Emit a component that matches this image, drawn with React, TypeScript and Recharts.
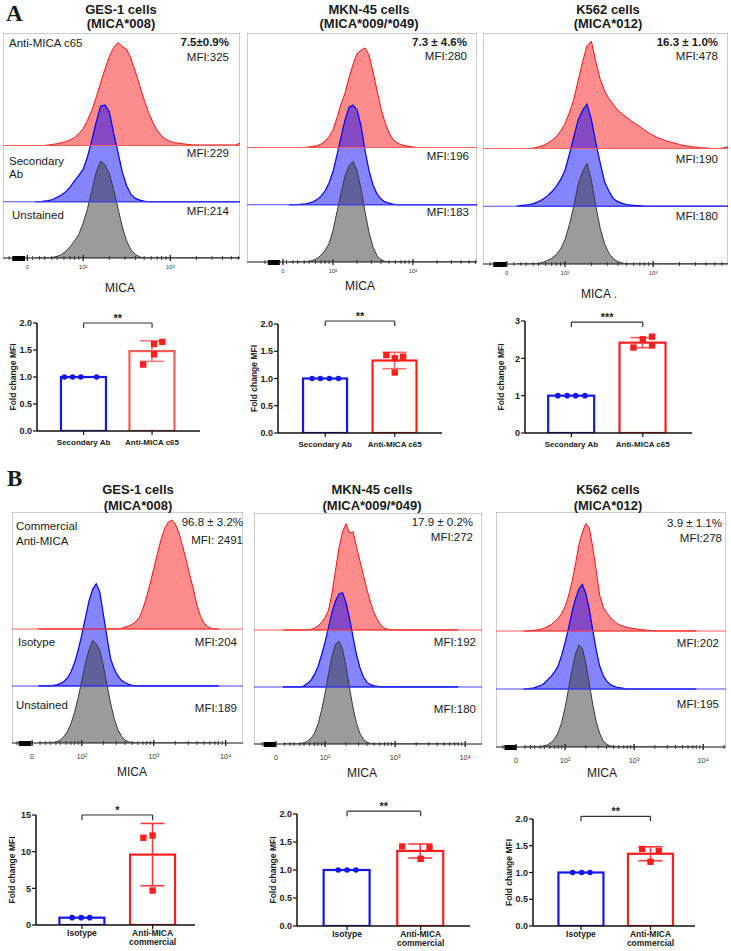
import {
  ComposedChart,
  Area,
  Bar,
  ErrorBar,
  Scatter,
  XAxis,
  YAxis,
  ReferenceArea,
  ReferenceLine,
} from "recharts";

const SANS = "'Liberation Sans', Arial, Helvetica, sans-serif";
const SERIF = "'Liberation Serif', 'Times New Roman', serif";
const BLUE = "#1616f0";
const RED = "#ff1e1e";

// log10(MICA) bin centres for the histograms
const micaLogA = [
  1.45, 1.5, 1.55, 1.6, 1.65, 1.7, 1.75, 1.8, 1.85, 1.9,
  1.95, 2.0, 2.05, 2.1, 2.15, 2.2, 2.25, 2.3, 2.35, 2.4,
  2.45, 2.5, 2.55, 2.6, 2.65, 2.7, 2.75, 2.8, 2.85, 2.9,
  2.95, 3.0, 3.05, 3.1, 3.15, 3.2, 3.25, 3.3, 3.35, 3.4,
  3.45, 3.5, 3.55, 3.6, 3.65, 3.7, 3.75, 3.8, 3.85,
];
const micaLogB = [
  1.4, 1.45, 1.5, 1.55, 1.6, 1.65, 1.7, 1.75, 1.8, 1.85,
  1.9, 1.95, 2.0, 2.05, 2.1, 2.15, 2.2, 2.25, 2.3, 2.35,
  2.4, 2.45, 2.5, 2.55, 2.6, 2.65, 2.7, 2.75, 2.8, 2.85,
  2.9, 2.95, 3.0, 3.05, 3.1, 3.15, 3.2, 3.25, 3.3, 3.35,
  3.4, 3.45, 3.5, 3.55, 3.6, 3.65, 3.7, 3.75, 3.8, 3.85,
  3.9,
];

// cell counts, normalised so one lane = 1 (row A: c65 staining)
const gesC65Red = [
  0, 0, 0, 0.01, 0.02, 0.03, 0.05, 0.07, 0.1, 0.14,
  0.21, 0.3, 0.45, 0.63, 0.86, 1.11, 1.36, 1.58, 1.74, 1.83,
  1.76, 1.71, 1.54, 1.31, 1.06, 0.81, 0.59, 0.41, 0.27, 0.17,
  0.11, 0.07, 0.05, 0.04, 0.03, 0.02, 0.01, 0.01, 0.01, 0.01,
  0.01, 0.01, 0.01, 0.01, 0.01, 0.01, 0.01, 0.04, 0,
];
const gesC65Blue = [
  0, 0, 0.01, 0.02, 0.04, 0.08, 0.12, 0.18, 0.26, 0.37,
  0.47, 0.58, 0.8, 1.1, 1.42, 1.7, 1.72, 1.6, 1.22, 0.88,
  0.52, 0.28, 0.13, 0.06, 0.03, 0.01, 0, 0, 0, 0,
  0, 0, 0, 0, 0, 0, 0, 0, 0, 0,
  0, 0, 0, 0, 0, 0, 0, 0, 0,
];
const gesC65Gray = [
  0, 0, 0, 0, 0.01, 0.03, 0.06, 0.12, 0.2, 0.3,
  0.42, 0.62, 0.88, 1.2, 1.52, 1.72, 1.66, 1.5, 1.22, 0.88,
  0.55, 0.3, 0.14, 0.06, 0.02, 0, 0, 0, 0, 0,
  0, 0, 0, 0, 0, 0, 0, 0, 0, 0,
  0, 0, 0, 0, 0, 0, 0, 0, 0,
];
const mknC65Red = [
  0, 0, 0, 0, 0, 0.01, 0.02, 0.03, 0.06, 0.11,
  0.19, 0.31, 0.52, 0.76, 0.95, 1.22, 1.45, 1.64, 1.7, 1.74,
  1.62, 1.32, 1.0, 0.68, 0.44, 0.26, 0.14, 0.08, 0.05, 0.03,
  0.02, 0.01, 0, 0, 0, 0, 0, 0, 0, 0,
  0, 0, 0, 0, 0, 0, 0, 0, 0,
];
const mknC65Blue = [
  0, 0, 0, 0.01, 0.01, 0.03, 0.05, 0.09, 0.15, 0.24,
  0.38, 0.58, 0.87, 1.18, 1.48, 1.7, 1.74, 1.66, 1.38, 0.95,
  0.6, 0.35, 0.19, 0.1, 0.05, 0.03, 0.01, 0, 0, 0,
  0, 0, 0, 0, 0, 0, 0, 0, 0, 0,
  0, 0, 0, 0, 0, 0, 0, 0, 0,
];
const mknC65Gray = [
  0, 0, 0, 0, 0, 0.01, 0.03, 0.06, 0.12, 0.2,
  0.32, 0.55, 0.88, 1.2, 1.5, 1.68, 1.76, 1.6, 1.28, 0.88,
  0.52, 0.26, 0.11, 0.04, 0.01, 0, 0, 0, 0, 0,
  0, 0, 0, 0, 0, 0, 0, 0, 0, 0,
  0, 0, 0, 0, 0, 0, 0, 0, 0,
];
const k562C65Red = [
  0, 0, 0, 0, 0.01, 0.03, 0.05, 0.09, 0.14, 0.2,
  0.3, 0.43, 0.62, 0.85, 1.18, 1.5, 1.78, 1.86, 1.5, 1.2,
  1.0, 0.86, 0.76, 0.66, 0.6, 0.54, 0.48, 0.43, 0.38, 0.32,
  0.27, 0.23, 0.19, 0.16, 0.13, 0.11, 0.09, 0.07, 0.05, 0.04,
  0.03, 0.02, 0.01, 0.01, 0, 0, 0, 0.01, 0.03,
];
const k562C65Blue = [
  0, 0.01, 0.02, 0.03, 0.05, 0.08, 0.12, 0.18, 0.25, 0.34,
  0.46, 0.62, 0.9, 1.2, 1.5, 1.66, 1.77, 1.5, 1.1, 0.75,
  0.42, 0.26, 0.13, 0.08, 0.05, 0.03, 0.02, 0.01, 0.01, 0,
  0, 0, 0, 0, 0, 0, 0, 0, 0, 0,
  0, 0, 0, 0, 0, 0, 0, 0, 0,
];
const k562C65Gray = [
  0, 0, 0, 0, 0, 0.01, 0.03, 0.06, 0.1, 0.16,
  0.26, 0.42, 0.68, 1.0, 1.38, 1.6, 1.74, 1.45, 1.0, 0.62,
  0.35, 0.18, 0.09, 0.04, 0.02, 0, 0, 0, 0, 0,
  0, 0, 0, 0, 0, 0, 0, 0, 0, 0,
  0, 0, 0, 0, 0, 0, 0, 0, 0,
];

// row B: commercial antibody
const gesComRed = [
  0, 0, 0, 0, 0, 0, 0, 0, 0, 0,
  0, 0, 0, 0, 0, 0, 0, 0, 0, 0,
  0, 0, 0, 0.01, 0.03, 0.05, 0.08, 0.13, 0.2, 0.36,
  0.56, 0.8, 1.06, 1.32, 1.56, 1.76, 1.87, 1.91, 1.84, 1.68,
  1.46, 1.21, 0.95, 0.7, 0.42, 0.22, 0.1, 0.04, 0.01, 0,
  0,
];
const gesComBlue = [
  0, 0, 0, 0, 0.01, 0.02, 0.04, 0.08, 0.14, 0.25,
  0.41, 0.63, 0.9, 1.2, 1.49, 1.69, 1.79, 1.65, 1.25, 0.86,
  0.48, 0.3, 0.18, 0.1, 0.06, 0.03, 0.01, 0, 0, 0,
  0, 0, 0, 0, 0, 0, 0, 0, 0, 0,
  0, 0, 0, 0, 0, 0, 0, 0, 0, 0,
  0,
];
const gesComGray = [
  0, 0, 0, 0, 0.01, 0.02, 0.05, 0.11, 0.2, 0.34,
  0.54, 0.8, 1.09, 1.39, 1.63, 1.8, 1.74, 1.63, 1.35, 1.02,
  0.7, 0.43, 0.24, 0.12, 0.05, 0.02, 0.01, 0, 0, 0,
  0, 0, 0, 0, 0, 0, 0, 0, 0, 0,
  0, 0, 0, 0, 0, 0, 0, 0, 0, 0,
  0,
];
const mknComRed = [
  0, 0, 0, 0, 0, 0, 0, 0, 0.01, 0.03,
  0.07, 0.13, 0.22, 0.35, 0.65, 1.05, 1.45, 1.72, 1.86, 1.7,
  1.72, 1.45, 1.2, 0.95, 0.7, 0.48, 0.3, 0.17, 0.08, 0.03,
  0.01, 0, 0, 0, 0, 0, 0, 0, 0, 0,
  0, 0, 0, 0, 0, 0, 0, 0, 0, 0,
  0,
];
const mknComBlue = [
  0, 0, 0, 0, 0, 0, 0.02, 0.06, 0.12, 0.22,
  0.36, 0.56, 0.79, 1.05, 1.31, 1.51, 1.63, 1.65, 1.48, 1.2,
  0.87, 0.56, 0.33, 0.17, 0.08, 0.04, 0.02, 0.01, 0, 0,
  0, 0, 0, 0, 0, 0, 0, 0, 0, 0,
  0, 0, 0, 0, 0, 0, 0, 0, 0, 0,
  0,
];
const mknComGray = [
  0, 0, 0, 0, 0, 0.01, 0.02, 0.05, 0.1, 0.19,
  0.35, 0.59, 0.89, 1.23, 1.54, 1.75, 1.8, 1.66, 1.35, 0.98,
  0.63, 0.36, 0.18, 0.08, 0.03, 0.01, 0, 0, 0, 0,
  0, 0, 0, 0, 0, 0, 0, 0, 0, 0,
  0, 0, 0, 0, 0, 0, 0, 0, 0, 0,
  0,
];
const k562ComRed = [
  0, 0, 0.01, 0.01, 0.02, 0.03, 0.05, 0.08, 0.11, 0.16,
  0.22, 0.3, 0.42, 0.6, 0.85, 1.15, 1.48, 1.7, 1.85, 1.78,
  1.45, 1.05, 0.62, 0.42, 0.32, 0.24, 0.18, 0.13, 0.1, 0.08,
  0.06, 0.05, 0.04, 0.03, 0.02, 0.02, 0.01, 0.01, 0, 0,
  0, 0, 0, 0, 0, 0, 0, 0, 0, 0,
  0,
];
const k562ComBlue = [
  0, 0, 0.01, 0.02, 0.04, 0.06, 0.1, 0.16, 0.22, 0.3,
  0.4, 0.58, 0.8, 1.05, 1.32, 1.55, 1.72, 1.8, 1.65, 1.38,
  1.02, 0.68, 0.4, 0.24, 0.14, 0.08, 0.05, 0.03, 0.02, 0.01,
  0, 0, 0, 0, 0, 0, 0, 0, 0, 0,
  0, 0, 0, 0, 0, 0, 0, 0, 0, 0,
  0,
];
const k562ComGray = [
  0, 0, 0, 0, 0, 0.01, 0.02, 0.04, 0.08, 0.14,
  0.25, 0.42, 0.68, 1.0, 1.32, 1.6, 1.76, 1.7, 1.45, 1.1,
  0.74, 0.44, 0.24, 0.11, 0.05, 0.02, 0.01, 0, 0, 0,
  0, 0, 0, 0, 0, 0, 0, 0, 0, 0,
  0, 0, 0, 0, 0, 0, 0, 0, 0, 0,
  0,
];

// biexponential axis ticks (display units = log10 above the linear region)
const minorTicksA = [1.15, 1.42, 1.5, 1.56, 1.64, 1.7, 1.78, 1.85, 1.9, 1.95, 2.3, 2.48, 2.6, 2.7, 2.78, 2.85, 2.9, 2.95, 3.3, 3.48, 3.6, 3.7, 3.78];
const minorTicksB = [1.1, 1.42, 1.5, 1.56, 1.64, 1.7, 1.78, 1.85, 1.9, 1.95, 2.3, 2.48, 2.6, 2.7, 2.78, 2.85, 2.9, 2.95, 3.3, 3.48, 3.6, 3.7, 3.78, 3.85, 3.9, 3.95, 4.3];
const clusterTicksA = [1.2, 1.22, 1.24, 1.26, 1.28, 1.3, 1.32];
const clusterTicksB = [1.14, 1.16, 1.18, 1.2, 1.22, 1.24, 1.26, 1.28];

// fold change MFI
const catsC65 = [["Secondary Ab"], ["Anti-MICA c65"]];
const catsCom = [["Isotype"], ["Anti-MICA", "commercial"]];

const gesC65Mean = [1.0, 1.48];
const gesC65Sd = [0, 0.19];
const gesC65Ctrl = [1, 1, 1, 1];
const gesC65Anti = [1.23, 1.42, 1.61, 1.65];
const mknC65Mean = [1.0, 1.33];
const mknC65Sd = [0, 0.15];
const mknC65Ctrl = [1, 1, 1, 1];
const mknC65Anti = [1.43, 1.37, 1.4, 1.11];
const k562C65Mean = [1.0, 2.42];
const k562C65Sd = [0, 0.135];
const k562C65Ctrl = [1, 1, 1, 1];
const k562C65Anti = [2.29, 2.51, 2.35, 2.58];

const gesComMean = [1.0, 9.6];
const gesComSd = [0, 4.25];
const gesComCtrl = [1, 1, 1];
const gesComAnti = [11.9, 12.2, 4.7];
const mknComMean = [1.0, 1.34];
const mknComSd = [0, 0.125];
const mknComCtrl = [1, 1, 1];
const mknComAnti = [1.42, 1.2, 1.4];
const k562ComMean = [1.0, 1.35];
const k562ComSd = [0, 0.13];
const k562ComCtrl = [1, 1, 1];
const k562ComAnti = [1.44, 1.4, 1.2];

// horizontal spread of the replicate points around each bar
const gesC65CtrlJit = [-0.28, -0.16, -0.04, 0.19];
const gesC65AntiJit = [-0.13, 0.03, 0.03, 0.15];
const mknC65CtrlJit = [-0.19, -0.07, 0.06, 0.19];
const mknC65AntiJit = [-0.12, 0, 0.12, 0];
const k562C65CtrlJit = [-0.19, -0.06, 0.06, 0.19];
const k562C65AntiJit = [-0.13, 0, 0.13, 0.13];
const gesComCtrlJit = [-0.14, -0.01, 0.11];
const gesComAntiJit = [-0.13, 0, 0];
const mknComCtrlJit = [-0.12, 0, 0.12];
const mknComAntiJit = [-0.25, 0, 0.12];
const k562ComCtrlJit = [-0.12, 0.01, 0.13];
const k562ComAntiJit = [-0.12, 0.12, 0];

type TxtProps = {
  x: number;
  y: number;
  children: React.ReactNode;
  align?: "left" | "right" | "center";
  bold?: boolean;
  size?: number;
  serif?: boolean;
};

const Txt = ({ x, y, children, align = "left", bold = false, size = 11.5, serif = false }: TxtProps) => {
  const tx = align === "right" ? "-100%" : align === "center" ? "-50%" : "0";
  return (
    <div
      style={{
        position: "absolute",
        left: x,
        top: y,
        transform: `translate(${tx}, -50%)`,
        fontSize: size,
        fontWeight: bold ? 700 : 400,
        lineHeight: 1,
        whiteSpace: "nowrap",
        color: "#1a1a1a",
        fontFamily: serif ? SERIF : SANS,
      }}
    >
      {children}
    </div>
  );
};

type HistProps = {
  left: number;
  top: number;
  width: number;
  height: number;
  yMax: number;
  domain: [number, number];
  xs: number[];
  red: number[];
  blue: number[];
  gray: number[];
  majors: [number, string][];
  minors: number[];
  cluster: number[];
  labelSize: number;
  labelDy: number;
};

const Histogram = (p: HistProps) => {
  const rows = p.xs.map((x, i) => ({
    x,
    red: [2, 2 + p.red[i]],
    blue: [1, 1 + p.blue[i]],
    gray: [0, p.gray[i]],
  }));
  const inside = (t: number) => t >= p.domain[0] && t <= p.domain[1];
  const ticks = [...p.cluster, ...p.minors, ...p.majors.map((m) => m[0])].filter(inside).sort((a, b) => a - b);
  const labelOf = new Map(p.majors);

  const renderTick = (props: any) => {
    const { x, y, payload } = props;
    const v = payload.value as number;
    const label = labelOf.get(v);
    if (label !== undefined) {
      return (
        <g>
          <line x1={x} x2={x} y1={y - 3} y2={y + 3} stroke="#222" strokeWidth={1.3} />
          <text x={x} y={y + p.labelDy} textAnchor="middle" fontSize={p.labelSize} fill="#3a3a3a">
            {label}
          </text>
        </g>
      );
    }
    if (p.cluster.includes(v)) {
      return <line x1={x} x2={x} y1={y - 2} y2={y + 3} stroke="#000" strokeWidth={2.4} />;
    }
    return <line x1={x} x2={x} y1={y - 2} y2={y + 2} stroke="#333" strokeWidth={0.9} />;
  };

  return (
    <div style={{ position: "absolute", left: p.left, top: p.top }}>
      <ComposedChart width={p.width} height={p.height + 22} data={rows} margin={{ top: 0, right: 0, bottom: 0, left: 0 }}>
        <XAxis
          type="number"
          dataKey="x"
          domain={p.domain}
          allowDataOverflow
          ticks={ticks}
          interval={0}
          tick={renderTick}
          tickLine={false}
          tickSize={0}
          tickMargin={0}
          axisLine={{ stroke: "#444", strokeWidth: 1 }}
          height={22}
        />
        <YAxis hide type="number" domain={[0, p.yMax]} allowDataOverflow />
        <ReferenceArea x1={p.domain[0]} x2={p.domain[1]} y1={0} y2={p.yMax} fill="none" stroke="#9c9c9c" strokeWidth={1} />
        <ReferenceLine y={2} stroke="#ff5a5a" strokeWidth={1.1} />
        <ReferenceLine y={1} stroke="#4a4aff" strokeWidth={1.1} />
        <Area type="linear" dataKey="red" fill="#ff0000" fillOpacity={0.45} stroke="#ff1010" strokeWidth={1} isAnimationActive={false} />
        <Area type="linear" dataKey="blue" fill="#0000ff" fillOpacity={0.48} stroke="#0000ff" strokeWidth={1.2} isAnimationActive={false} />
        <Area type="linear" dataKey="gray" fill="#404040" fillOpacity={0.52} stroke="#3a3a3a" strokeWidth={1} isAnimationActive={false} />
      </ComposedChart>
    </div>
  );
};

type FoldProps = {
  axisX: number;
  topY: number;
  plotW: number;
  plotH: number;
  xDomain: [number, number];
  yMax: number;
  yTicks: number[];
  decimals: number;
  means: number[];
  sds: number[];
  control: number[];
  controlJitter: number[];
  treated: number[];
  treatedJitter: number[];
  cats: string[][];
  catSize: number;
  catMargin: number;
  catFirst: string;
  stars: string;
  bracketY: number;
  bracketDrop: number;
  barSize: number;
  redStroke: string;
  errStroke: string;
};

const FoldChart = (p: FoldProps) => {
  const bars = p.means.map((mean, i) => ({ x: i + 1, mean, sd: p.sds[i] }));
  const ctrl = p.control.map((y, i) => ({ x: 1 + p.controlJitter[i], y }));
  const trt = p.treated.map((y, i) => ({ x: 2 + p.treatedJitter[i], y }));

  const catTick = (props: any) => {
    const { x, y, payload } = props;
    const lines = p.cats[Math.round(payload.value) - 1] || [];
    return (
      <text x={x} y={y} textAnchor="middle" fontSize={p.catSize} fontWeight={700} fill="#222">
        {lines.map((l, i) => (
          <tspan key={i} x={x} dy={i === 0 ? p.catFirst : "1.12em"}>
            {l}
          </tspan>
        ))}
      </text>
    );
  };

  // open bar: keep the band centre, use the fixed bar width
  const openBar = (s: any) => {
    const cx = s.x + s.width / 2;
    const color = s.payload && s.payload.x === 1 ? BLUE : p.redStroke;
    return (
      <rect
        x={cx - p.barSize / 2}
        y={s.y}
        width={p.barSize}
        height={Math.max(0, s.height)}
        fill="none"
        stroke={color}
        strokeWidth={2.2}
      />
    );
  };

  const bracket = { stroke: "#333", strokeWidth: 1.2, ifOverflow: "visible" as const };

  return (
    <div style={{ position: "absolute", left: p.axisX - 45, top: p.topY - 22 }}>
      <ComposedChart
        width={45 + p.plotW + 6}
        height={22 + p.plotH + 34}
        data={bars}
        margin={{ top: 22, right: 6, bottom: 0, left: 0 }}
      >
        <XAxis
          type="number"
          dataKey="x"
          domain={p.xDomain}
          allowDataOverflow
          ticks={[1, 2]}
          interval={0}
          tick={catTick}
          tickSize={4}
          tickMargin={p.catMargin}
          axisLine={{ stroke: "#111", strokeWidth: 1.5 }}
          tickLine={{ stroke: "#111", strokeWidth: 1.2 }}
          height={34}
        />
        <YAxis
          type="number"
          domain={[0, p.yMax]}
          allowDataOverflow
          ticks={p.yTicks}
          interval={0}
          width={45}
          tickFormatter={(v: number) => v.toFixed(p.decimals)}
          tick={{ fontSize: 9, fontWeight: 700, fill: "#222" }}
          tickSize={4}
          tickMargin={1}
          axisLine={{ stroke: "#111", strokeWidth: 1.5 }}
          tickLine={{ stroke: "#111", strokeWidth: 1.2 }}
          label={{
            value: "Fold change MFI",
            angle: -90,
            position: "insideLeft",
            offset: 21,
            style: { textAnchor: "middle", fontSize: 8.5, fontWeight: 700, fill: "#222" },
          }}
        />
        <Bar dataKey="mean" barSize={p.barSize} shape={openBar} isAnimationActive={false}>
          <ErrorBar dataKey="sd" direction="y" width={12} stroke={p.errStroke} strokeWidth={1.6} />
        </Bar>
        <Scatter
          data={ctrl}
          dataKey="y"
          isAnimationActive={false}
          shape={(s: any) => <circle cx={s.cx} cy={s.cy} r={2.8} fill={BLUE} />}
        />
        <Scatter
          data={trt}
          dataKey="y"
          isAnimationActive={false}
          shape={(s: any) => <rect x={s.cx - 3.2} y={s.cy - 3.2} width={6.4} height={6.4} fill={RED} />}
        />
        <ReferenceLine
          {...bracket}
          segment={[
            { x: 1, y: p.bracketY },
            { x: 2, y: p.bracketY },
          ]}
          label={{ value: p.stars, position: "top", offset: 1, fontSize: 11, fontWeight: 700, fill: "#222" }}
        />
        <ReferenceLine
          {...bracket}
          segment={[
            { x: 1, y: p.bracketY },
            { x: 1, y: p.bracketY - p.bracketDrop },
          ]}
        />
        <ReferenceLine
          {...bracket}
          segment={[
            { x: 2, y: p.bracketY },
            { x: 2, y: p.bracketY - p.bracketDrop },
          ]}
        />
      </ComposedChart>
    </div>
  );
};

const majorsA = (zero: number): [number, string][] => [
  [zero, "0"],
  [2, "10²"],
  [3, "10³"],
];
const majorsB = (zero: number): [number, string][] => [
  [zero, "0"],
  [2, "10²"],
  [3, "10³"],
  [4, "10⁴"],
];

const rowA = { yMax: 4, minors: minorTicksA, cluster: clusterTicksA, labelSize: 6, labelDy: 11, xs: micaLogA };
const rowB = { yMax: 4.05, minors: minorTicksB, cluster: clusterTicksB, labelSize: 7.5, labelDy: 16, xs: micaLogB };
const barsA = { cats: catsC65, catSize: 8, catMargin: 2, catFirst: "0.95em" };
const barsB = { cats: catsCom, catSize: 8.5, catMargin: 0, catFirst: "0.8em" };

export default function App() {
  return (
    <div
      style={{
        position: "absolute",
        left: 0,
        top: 0,
        width: 731,
        height: 951,
        background: "#fff",
        overflow: "hidden",
        fontFamily: SANS,
      }}
    >
      {/* ---- A: c65 ---- */}
      <Histogram {...rowA} left={3} top={33} width={237} height={225} domain={[1.08, 3.8]} majors={majorsA(1.36)}
        red={gesC65Red} blue={gesC65Blue} gray={gesC65Gray} />
      <Histogram {...rowA} left={247} top={33} width={230} height={229} domain={[0.925, 3.8]} majors={majorsA(1.375)}
        red={mknC65Red} blue={mknC65Blue} gray={mknC65Gray} />
      <Histogram {...rowA} left={483} top={33} width={245} height={231} domain={[1.07, 3.85]} majors={majorsA(1.34)}
        red={k562C65Red} blue={k562C65Blue} gray={k562C65Gray} />

      <FoldChart {...barsA} axisX={37} topY={323} plotW={163} plotH={108} xDomain={[0.32, 2.7]} yMax={2} yTicks={[0, 0.5, 1, 1.5, 2]}
        decimals={1} means={gesC65Mean} sds={gesC65Sd} control={gesC65Ctrl} controlJitter={gesC65CtrlJit}
        treated={gesC65Anti} treatedJitter={gesC65AntiJit} stars="**" bracketY={2}
        bracketDrop={0.09} barSize={45} redStroke="#f45a5a" errStroke="#f57a7a" />
      <FoldChart {...barsA} axisX={278} topY={324} plotW={164} plotH={109} xDomain={[0.32, 2.68]} yMax={2} yTicks={[0, 0.5, 1, 1.5, 2]}
        decimals={1} means={mknC65Mean} sds={mknC65Sd} control={mknC65Ctrl} controlJitter={mknC65CtrlJit}
        treated={mknC65Anti} treatedJitter={mknC65AntiJit} stars="**" bracketY={2.055}
        bracketDrop={0.09} barSize={44} redStroke={RED} errStroke="#ff6a6a" />
      <FoldChart {...barsA} axisX={525} topY={321} plotW={167} plotH={112} xDomain={[0.35, 2.69]} yMax={3} yTicks={[0, 1, 2, 3]}
        decimals={0} means={k562C65Mean} sds={k562C65Sd} control={k562C65Ctrl} controlJitter={k562C65CtrlJit}
        treated={k562C65Anti} treatedJitter={k562C65AntiJit} stars="***" bracketY={2.97}
        bracketDrop={0.13} barSize={46} redStroke={RED} errStroke="#ff5050" />

      {/* ---- B: commercial ---- */}
      <Histogram {...rowB} left={12} top={512} width={231} height={231} domain={[1.03, 4.24]} majors={majorsB(1.31)}
        red={gesComRed} blue={gesComBlue} gray={gesComGray} />
      <Histogram {...rowB} left={254} top={513} width={228} height={231} domain={[0.986, 4.24]} majors={majorsB(1.3)}
        red={mknComRed} blue={mknComBlue} gray={mknComGray} />
      <Histogram {...rowB} left={496} top={512} width={230} height={235} domain={[1.0, 4.33]} majors={majorsB(1.29)}
        red={k562ComRed} blue={k562ComBlue} gray={k562ComGray} />

      <FoldChart {...barsB} axisX={36} topY={815} plotW={159} plotH={110} xDomain={[0.35, 2.6]} yMax={15} yTicks={[0, 5, 10, 15]}
        decimals={0} means={gesComMean} sds={gesComSd} control={gesComCtrl} controlJitter={gesComCtrlJit}
        treated={gesComAnti} treatedJitter={gesComAntiJit} stars="*" bracketY={15}
        bracketDrop={0.7} barSize={45} redStroke={RED} errStroke="#ff3a3a" />
      <FoldChart {...barsB} axisX={297} topY={814} plotW={173} plotH={112} xDomain={[0.32, 2.67]} yMax={2} yTicks={[0, 0.5, 1, 1.5, 2]}
        decimals={1} means={mknComMean} sds={mknComSd} control={mknComCtrl} controlJitter={mknComCtrlJit}
        treated={mknComAnti} treatedJitter={mknComAntiJit} stars="**" bracketY={2.05}
        bracketDrop={0.09} barSize={46} redStroke={RED} errStroke="#ff3a3a" />
      <FoldChart {...barsB} axisX={533} topY={819} plotW={162} plotH={107} xDomain={[0.31, 2.64]} yMax={2} yTicks={[0, 0.5, 1, 1.5, 2]}
        decimals={1} means={k562ComMean} sds={k562ComSd} control={k562ComCtrl} controlJitter={k562ComCtrlJit}
        treated={k562ComAnti} treatedJitter={k562ComAntiJit} stars="**" bracketY={2.05}
        bracketDrop={0.09} barSize={45} redStroke={RED} errStroke="#ff3a3a" />

      {/* panel letters and titles */}
      <Txt x={6} y={12.5} size={23} bold serif>A</Txt>
      <Txt x={7} y={478} size={23} bold serif>B</Txt>

      <Txt x={121} y={8.5} align="center" bold size={13}>GES-1 cells</Txt>
      <Txt x={121} y={22.5} align="center" bold size={13}>(MICA*008)</Txt>
      <Txt x={369} y={8.5} align="center" bold size={13}>MKN-45 cells</Txt>
      <Txt x={369} y={22.5} align="center" bold size={13}>(MICA*009/*049)</Txt>
      <Txt x={608} y={8.5} align="center" bold size={13}>K562 cells</Txt>
      <Txt x={608} y={22.5} align="center" bold size={13}>(MICA*012)</Txt>

      <Txt x={138} y={489} align="center" bold size={13}>GES-1 cells</Txt>
      <Txt x={138} y={505} align="center" bold size={13}>(MICA*008)</Txt>
      <Txt x={372} y={489} align="center" bold size={13}>MKN-45 cells</Txt>
      <Txt x={372} y={505} align="center" bold size={13}>(MICA*009/*049)</Txt>
      <Txt x={608} y={489} align="center" bold size={13}>K562 cells</Txt>
      <Txt x={608} y={505} align="center" bold size={13}>(MICA*012)</Txt>

      {/* A histogram annotations */}
      <Txt x={9} y={44}>Anti-MICA c65</Txt>
      <Txt x={229} y={43} align="right" bold>7.5±0.9%</Txt>
      <Txt x={229} y={58} align="right">MFI:325</Txt>
      <Txt x={229} y={154} align="right">MFI:229</Txt>
      <Txt x={9} y={162}>Secondary</Txt>
      <Txt x={9} y={175}>Ab</Txt>
      <Txt x={12} y={216}>Unstained</Txt>
      <Txt x={229} y={212} align="right">MFI:214</Txt>

      <Txt x={467} y={43} align="right" bold>7.3 ± 4.6%</Txt>
      <Txt x={467} y={57} align="right">MFI:280</Txt>
      <Txt x={469} y={157} align="right">MFI:196</Txt>
      <Txt x={469} y={213} align="right">MFI:183</Txt>

      <Txt x={718} y={43} align="right" bold>16.3 ± 1.0%</Txt>
      <Txt x={718} y={57} align="right">MFI:478</Txt>
      <Txt x={718} y={160} align="right">MFI:190</Txt>
      <Txt x={718} y={217} align="right">MFI:180</Txt>

      <Txt x={120} y={288} align="center" size={12}>MICA</Txt>
      <Txt x={360} y={286} align="center" size={12}>MICA</Txt>
      <Txt x={599} y={294} align="center" size={12}>MICA .</Txt>

      {/* B histogram annotations */}
      <Txt x={16} y={527}>Commercial</Txt>
      <Txt x={16} y={542}>Anti-MICA</Txt>
      <Txt x={243} y={523} align="right">96.8 ± 3.2%</Txt>
      <Txt x={243} y={541} align="right">MFI: 2491</Txt>
      <Txt x={18} y={643}>Isotype</Txt>
      <Txt x={237} y={643} align="right">MFI:204</Txt>
      <Txt x={16} y={706}>Unstained</Txt>
      <Txt x={237} y={709} align="right">MFI:189</Txt>

      <Txt x={473} y={523} align="right">17.9 ± 0.2%</Txt>
      <Txt x={473} y={538} align="right">MFI:272</Txt>
      <Txt x={476} y={643} align="right">MFI:192</Txt>
      <Txt x={476} y={710} align="right">MFI:180</Txt>

      <Txt x={722} y={524} align="right">3.9 ± 1.1%</Txt>
      <Txt x={722} y={539} align="right">MFI:278</Txt>
      <Txt x={719} y={644} align="right">MFI:202</Txt>
      <Txt x={719} y={705} align="right">MFI:195</Txt>

      <Txt x={132} y={772} align="center" size={12}>MICA</Txt>
      <Txt x={362} y={773} align="center" size={12}>MICA</Txt>
      <Txt x={602} y={773} align="center" size={12}>MICA</Txt>
    </div>
  );
}
